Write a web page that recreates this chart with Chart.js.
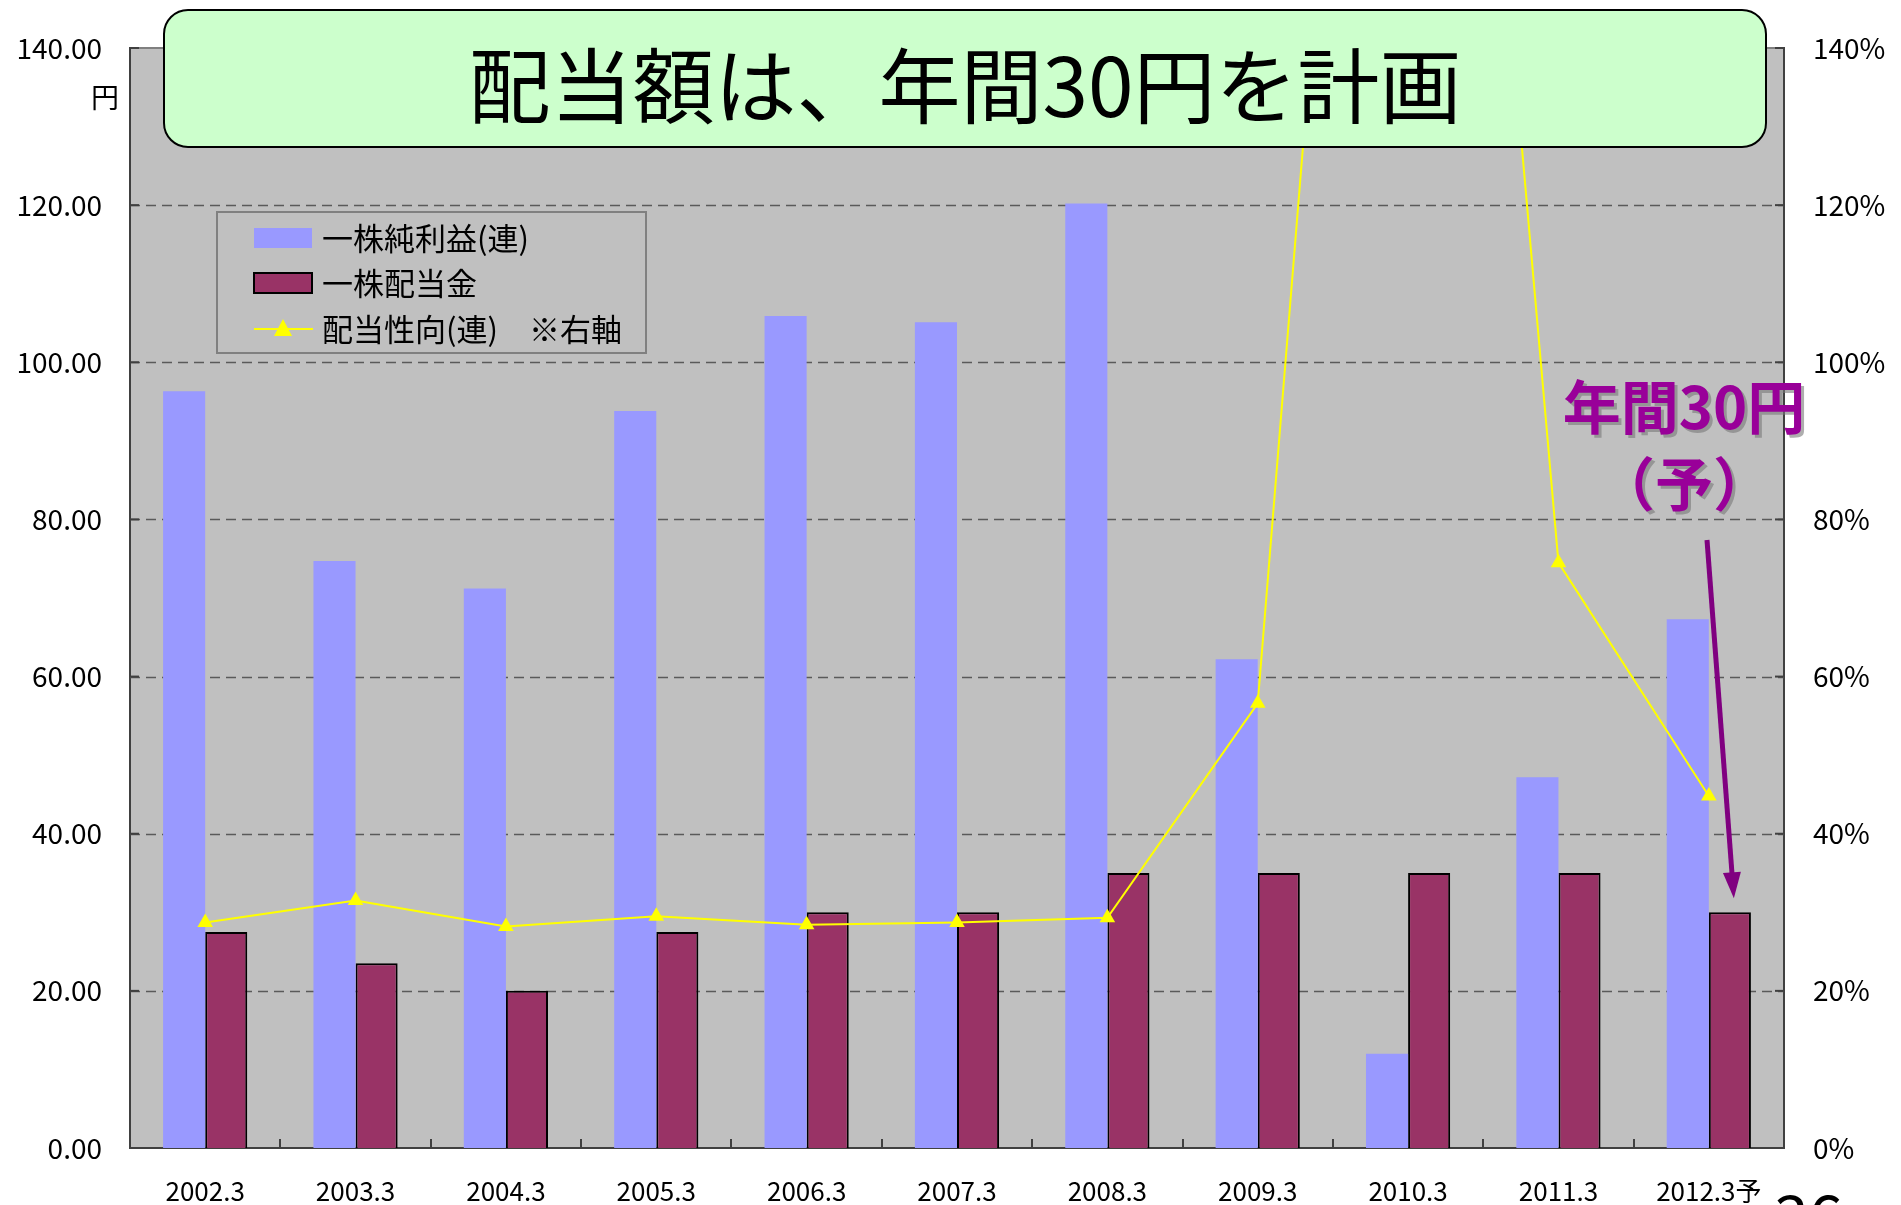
<!DOCTYPE html>
<html>
<head>
<meta charset="utf-8">
<script src="https://cdn.jsdelivr.net/npm/chart.js@4.4.1/dist/chart.umd.min.js"></script>
<style>
html, body { margin: 0; padding: 0; background: #fff; overflow: hidden; }
</style>
</head>
<body>
<canvas id="c" width="1901" height="1205"></canvas>
<script>
// 決算期
const years = ['2002.3', '2003.3', '2004.3', '2005.3', '2006.3', '2007.3', '2008.3', '2009.3', '2010.3', '2011.3', '2012.3予'];
// 一株純利益(連) 円
const eps = [96.3, 74.7, 71.2, 93.8, 105.9, 105.1, 120.2, 62.2, 12.0, 47.2, 67.3];
// 一株配当金 円
const dividend = [27.5, 23.5, 20.0, 27.5, 30.0, 30.0, 35.0, 35.0, 35.0, 35.0, 30.0];
// 配当性向(連) % (2010.3 は上に振り切れ)
const payout = [28.7, 31.5, 28.2, 29.5, 28.4, 28.7, 29.3, 56.6, 292, 74.5, 44.8];
// 目盛
const leftTicks = [0, 20, 40, 60, 80, 100, 120, 140];
const rightTicks = [0, 20, 40, 60, 80, 100, 120, 140];
const seriesNames = ['一株純利益(連)', '一株配当金', '配当性向(連)　※右軸'];
const titleText = '配当額は、年間30円を計画';

const FONT = '"Noto Sans CJK JP", "Noto Sans", sans-serif';

const deco = {
  id: 'deco',
  beforeDraw(chart) {
    const { ctx, chartArea: a } = chart;
    ctx.save();
    ctx.fillStyle = '#c0c0c0';
    ctx.fillRect(a.left, a.top, a.right - a.left, a.bottom - a.top);
    ctx.restore();
  },
  beforeDatasetsDraw(chart) {
    const { ctx, chartArea: a, scales } = chart;
    ctx.save();
    // 破線のグリッド
    ctx.strokeStyle = '#5a5a5a';
    ctx.lineWidth = 1.5;
    ctx.setLineDash([10, 6]);
    leftTicks.forEach(v => {
      if (v === 0 || v === 140) return;
      const y = Math.round(scales.y.getPixelForValue(v)) + 0.5;
      ctx.beginPath();
      ctx.moveTo(a.left, y);
      ctx.lineTo(a.right, y);
      ctx.stroke();
    });
    ctx.setLineDash([]);
    // 上の枠線
    ctx.strokeStyle = '#808080';
    ctx.lineWidth = 2;
    ctx.beginPath();
    ctx.moveTo(a.left, a.top);
    ctx.lineTo(a.right, a.top);
    ctx.stroke();
    ctx.restore();
  },
  afterDraw(chart) {
    const { ctx, chartArea: a, scales } = chart;
    ctx.save();

    // 内向きの目盛
    ctx.strokeStyle = '#404040';
    ctx.lineWidth = 2;
    leftTicks.forEach(v => {
      const y = scales.y.getPixelForValue(v);
      ctx.beginPath(); ctx.moveTo(a.left, y); ctx.lineTo(a.left + 9, y); ctx.stroke();
      ctx.beginPath(); ctx.moveTo(a.right, y); ctx.lineTo(a.right - 9, y); ctx.stroke();
    });
    const step = (a.right - a.left) / years.length;
    for (let i = 1; i < years.length; i++) {
      const x = Math.round(a.left + step * i);
      ctx.beginPath(); ctx.moveTo(x, a.bottom); ctx.lineTo(x, a.bottom - 9); ctx.stroke();
    }

    // 単位
    ctx.fillStyle = '#000';
    ctx.font = '28px ' + FONT;
    ctx.textAlign = 'center';
    ctx.textBaseline = 'middle';
    ctx.fillText('円', 105, 97);

    // 凡例（純利益・配当金・配当性向の順）
    const lx = 217, ly = 212, lw = 429, lh = 141;
    ctx.fillStyle = '#c0c0c0';
    ctx.fillRect(lx, ly, lw, lh);
    ctx.strokeStyle = '#808080';
    ctx.lineWidth = 2;
    ctx.strokeRect(lx, ly, lw, lh);
    const rows = [238, 283, 329];
    const ds = chart.data.datasets;
    ctx.textAlign = 'left';
    ctx.font = '31px ' + FONT;
    seriesNames.forEach((name, i) => {
      const d = ds.find(s => s.label === name);
      const cy = rows[i];
      if (d.type === 'line') {
        ctx.strokeStyle = d.borderColor;
        ctx.lineWidth = 2;
        ctx.beginPath(); ctx.moveTo(254, cy); ctx.lineTo(313, cy); ctx.stroke();
        ctx.fillStyle = d.pointBackgroundColor;
        ctx.beginPath();
        ctx.moveTo(283, cy - 10); ctx.lineTo(292, cy + 7); ctx.lineTo(274, cy + 7);
        ctx.closePath(); ctx.fill();
      } else {
        ctx.fillStyle = d.backgroundColor;
        ctx.fillRect(254, cy - 10, 58, 20);
        if (d.borderWidth) {
          ctx.strokeStyle = d.borderColor;
          ctx.lineWidth = 2;
          ctx.strokeRect(254, cy - 10, 58, 20);
        }
      }
      ctx.fillStyle = '#000';
      ctx.fillText(d.label, 322, cy);
    });

    // タイトル枠
    ctx.beginPath();
    ctx.roundRect(164, 10, 1602, 137, 24);
    ctx.fillStyle = '#ccffcc';
    ctx.fill();
    ctx.strokeStyle = '#000';
    ctx.lineWidth = 2;
    ctx.stroke();
    ctx.fillStyle = '#000';
    ctx.font = '82px ' + FONT;
    ctx.textAlign = 'center';
    ctx.textBaseline = 'middle';
    ctx.fillText(titleText, 965, 86);

    // 注記
    ctx.font = 'bold 58px ' + FONT;
    ctx.fillStyle = '#990099';
    ctx.shadowColor = 'rgba(120,120,120,0.6)';
    ctx.shadowOffsetX = 3;
    ctx.shadowOffsetY = 3;
    ctx.fillText('年間30円', 1684, 407);
    ctx.fillText('（予）', 1684, 484);
    ctx.shadowColor = 'transparent';

    // 矢印
    const meta = chart.getDatasetMeta(1);
    const bar = meta.data[years.length - 1];
    const tipX = bar.x + 4, tipY = bar.y - 14;
    const sx = 1707, sy = 540;
    const ang = Math.atan2(tipY - sy, tipX - sx);
    ctx.strokeStyle = '#800080';
    ctx.fillStyle = '#800080';
    ctx.lineWidth = 5;
    ctx.beginPath();
    ctx.moveTo(sx, sy);
    ctx.lineTo(tipX - 20 * Math.cos(ang), tipY - 20 * Math.sin(ang));
    ctx.stroke();
    ctx.beginPath();
    ctx.moveTo(tipX, tipY);
    ctx.lineTo(tipX - 26 * Math.cos(ang) + 9 * Math.sin(ang), tipY - 26 * Math.sin(ang) - 9 * Math.cos(ang));
    ctx.lineTo(tipX - 26 * Math.cos(ang) - 9 * Math.sin(ang), tipY - 26 * Math.sin(ang) + 9 * Math.cos(ang));
    ctx.closePath();
    ctx.fill();

    // ページ番号（下端で切れている）
    ctx.fillStyle = '#000';
    ctx.font = '62px ' + FONT;
    ctx.textAlign = 'left';
    ctx.textBaseline = 'alphabetic';
    ctx.fillText('36', 1774, 1240);

    ctx.restore();
  }
};

const chart = new Chart(document.getElementById('c').getContext('2d'), {
  data: {
    labels: years,
    datasets: [
      {
        type: 'line',
        label: seriesNames[2],
        data: payout,
        yAxisID: 'y1',
        borderColor: '#ffff00',
        borderWidth: 2,
        pointStyle: 'triangle',
        pointRadius: 9,
        pointBackgroundColor: '#ffff00',
        pointBorderColor: '#ffff00',
        pointBorderWidth: 0,
        tension: 0,
        order: 0
      },
      {
        type: 'bar',
        label: seriesNames[1],
        data: dividend,
        yAxisID: 'y',
        backgroundColor: '#993366',
        borderColor: '#000000',
        borderWidth: 2,
        categoryPercentage: 0.56,
        barPercentage: 1.0,
        order: 2
      },
      {
        type: 'bar',
        label: seriesNames[0],
        data: eps,
        yAxisID: 'y',
        backgroundColor: '#9999ff',
        borderWidth: 0,
        categoryPercentage: 0.56,
        barPercentage: 1.0,
        order: 1
      }
    ]
  },
  options: {
    responsive: false,
    animation: false,
    layout: { padding: { top: 48, left: 0, right: 0, bottom: 0 } },
    plugins: { legend: { display: false }, title: { display: false }, tooltip: { enabled: false } },
    scales: {
      x: {
        grid: { display: false },
        border: { color: '#404040', width: 2 },
        ticks: { color: '#000', font: { family: FONT, size: 26 }, padding: 20, maxRotation: 0, autoSkip: false },
        afterFit(s) { s.height = 57; }
      },
      y: {
        position: 'left',
        min: 0, max: 140,
        afterBuildTicks(s) { s.ticks = leftTicks.map(v => ({ value: v })); },
        ticks: { callback: v => v.toFixed(2), color: '#000', font: { family: FONT, size: 28 }, padding: 28 },
        grid: { display: false, drawTicks: false },
        border: { color: '#404040', width: 2 },
        afterFit(s) { s.width = 130; }
      },
      y1: {
        position: 'right',
        min: 0, max: 140,
        afterBuildTicks(s) { s.ticks = rightTicks.map(v => ({ value: v })); },
        ticks: { callback: v => v + '%', color: '#000', font: { family: FONT, size: 28 }, padding: 29 },
        grid: { display: false, drawTicks: false },
        border: { color: '#404040', width: 2 },
        afterFit(s) { s.width = 117; }
      }
    }
  },
  plugins: [deco]
});
</script>
</body>
</html>
